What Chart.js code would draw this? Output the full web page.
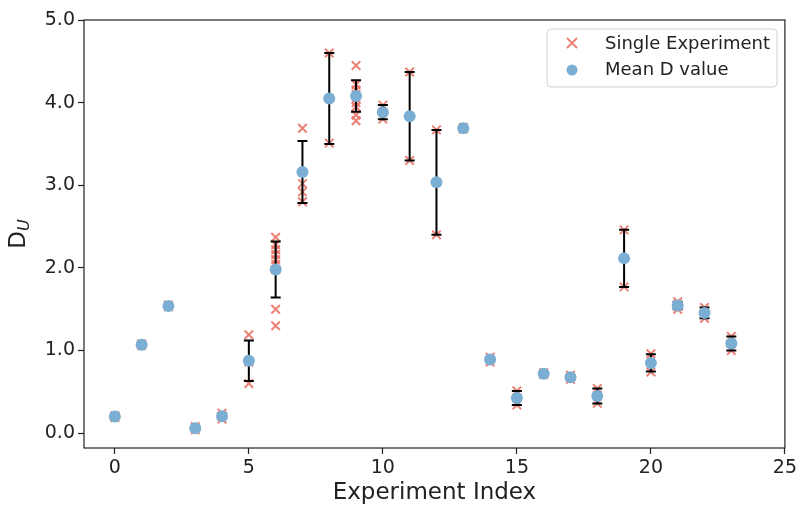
<!DOCTYPE html>
<html>
<head>
<meta charset="utf-8">
<script src="https://cdn.jsdelivr.net/npm/chart.js@4"></script>
<style>
  html, body { margin: 0; padding: 0; background: #fff; }
  #wrap { width: 800px; height: 506px; position: relative; }
</style>
</head>
<body>
<div id="wrap"><canvas id="dChart"></canvas></div>
<script>
// Experiment indices on the x axis
const expIndex = [0, 1, 2, 3, 4, 5, 6, 7, 8, 9, 10, 11, 12, 13, 14, 15, 16, 17, 18, 19, 20, 21, 22, 23];

// D values of every single run, one list per experiment
const singleRuns = [
    [0.21, 0.19],
    [1.08, 1.06],
    [1.55, 1.53],
    [0.08, 0.04],
    [0.24, 0.17],
    [1.19, 0.86, 0.60],
    [2.37, 2.28, 2.22, 2.16, 2.10, 2.04, 1.98, 1.50, 1.30],
    [3.69, 3.02, 2.92, 2.80],
    [4.60, 3.51],
    [4.45, 4.22, 4.15, 4.10, 4.05, 4.00, 3.95, 3.85, 3.78],
    [3.97, 3.80],
    [4.37, 3.30],
    [3.67, 2.40],
    [3.70, 3.68],
    [0.92, 0.86],
    [0.51, 0.34],
    [0.73, 0.71],
    [0.70, 0.65],
    [0.54, 0.36],
    [2.46, 1.77],
    [0.96, 0.74],
    [1.59, 1.50],
    [1.52, 1.39],
    [1.17, 1.00]
];

// Mean D value and its standard deviation per experiment
const meanValues = [0.20, 1.07, 1.54, 0.06, 0.205, 0.875, 1.98, 3.16, 4.05, 4.08, 3.885, 3.835, 3.035, 3.69,
                    0.89, 0.425, 0.72, 0.675, 0.45, 2.115, 0.85, 1.545, 1.455, 1.085];
const stdValues = [0.01, 0.01, 0.01, 0.02, 0.035, 0.245, 0.34, 0.375, 0.55, 0.19, 0.085, 0.535, 0.635, 0.01,
                   0.03, 0.085, 0.01, 0.025, 0.09, 0.345, 0.105, 0.045, 0.065, 0.085];

// Axis ticks
const xTicks = [0, 5, 10, 15, 20, 25];
const yTicks = [0, 1, 2, 3, 4, 5];

const crossColor = 'rgba(232, 108, 94, 0.85)';
const meanColor = '#7aaed3';
const FONT = '"DejaVu Sans", sans-serif';

const singlePoints = [];
singleRuns.forEach((runs, i) => {
    runs.forEach(v => singlePoints.push({ x: expIndex[i], y: v }));
});
const meanPoints = expIndex.map((x, i) => ({ x: x, y: meanValues[i] }));

// Error bars drawn right after the crosses, so the mean markers sit on top
const errorBars = {
    id: 'errorBars',
    afterDatasetDraw(chart, args) {
        if (args.index !== 0) return;
        const ctx = chart.ctx;
        const xs = chart.scales.x, ys = chart.scales.y;
        ctx.save();
        ctx.strokeStyle = '#000';
        ctx.lineWidth = 2;
        expIndex.forEach((x, i) => {
            const px = xs.getPixelForValue(x);
            const top = ys.getPixelForValue(meanValues[i] + stdValues[i]);
            const bot = ys.getPixelForValue(meanValues[i] - stdValues[i]);
            ctx.beginPath();
            ctx.moveTo(px, top); ctx.lineTo(px, bot);
            ctx.moveTo(px - 5, top); ctx.lineTo(px + 5, top);
            ctx.moveTo(px - 5, bot); ctx.lineTo(px + 5, bot);
            ctx.stroke();
        });
        ctx.restore();
    }
};

// Frame, axis titles and legend box
const decorations = {
    id: 'decorations',
    afterDraw(chart) {
        const ctx = chart.ctx;
        const a = chart.chartArea;
        ctx.save();
        ctx.strokeStyle = '#222';
        ctx.lineWidth = 1.2;
        ctx.strokeRect(a.left, a.top, a.right - a.left, a.bottom - a.top);

        // x title
        ctx.fillStyle = '#222';
        ctx.font = '23px ' + FONT;
        ctx.textAlign = 'center';
        ctx.textBaseline = 'middle';
        ctx.fillText('Experiment Index', (a.left + a.right) / 2, 493);

        // y title: D with italic subscript U
        ctx.save();
        ctx.translate(25, (a.top + a.bottom) / 2);
        ctx.rotate(-Math.PI / 2);
        ctx.textAlign = 'left';
        ctx.textBaseline = 'alphabetic';
        ctx.font = '23px ' + FONT;
        const dW = ctx.measureText('D').width;
        ctx.font = 'italic 16px ' + FONT;
        const uW = ctx.measureText('U').width;
        const start = -(dW + uW) / 2;
        ctx.font = '23px ' + FONT;
        ctx.fillText('D', start, 0);
        ctx.font = 'italic 16px ' + FONT;
        ctx.fillText('U', start + dW, 4);
        ctx.restore();

        // legend
        const lx = 547, ly = 29, lw = 230, lh = 58;
        ctx.fillStyle = 'rgba(255,255,255,0.85)';
        ctx.strokeStyle = '#d0d0d0';
        ctx.lineWidth = 1;
        ctx.beginPath();
        ctx.roundRect(lx, ly, lw, lh, 4);
        ctx.fill();
        ctx.stroke();

        ctx.strokeStyle = crossColor;
        ctx.lineWidth = 1.8;
        ctx.beginPath();
        ctx.moveTo(567, 38); ctx.lineTo(577, 48);
        ctx.moveTo(577, 38); ctx.lineTo(567, 48);
        ctx.stroke();
        ctx.fillStyle = meanColor;
        ctx.beginPath();
        ctx.arc(572, 70, 5.5, 0, Math.PI * 2);
        ctx.fill();

        ctx.fillStyle = '#222';
        ctx.font = '18px ' + FONT;
        ctx.textAlign = 'left';
        ctx.textBaseline = 'middle';
        ctx.fillText('Single Experiment', 605, 44);
        ctx.fillText('Mean D value', 605, 70);
        ctx.restore();
    }
};

new Chart(document.getElementById('dChart'), {
    type: 'scatter',
    data: {
        datasets: [{
            label: 'Single Experiment',
            data: singlePoints,
            pointStyle: 'crossRot',
            pointRadius: 6,
            pointBorderWidth: 2,
            borderColor: crossColor,
            backgroundColor: crossColor,
            order: 2
        }, {
            label: 'Mean D value',
            data: meanPoints,
            pointStyle: 'circle',
            pointRadius: 6,
            pointBorderWidth: 0,
            borderColor: meanColor,
            backgroundColor: meanColor,
            order: 1
        }]
    },
    options: {
        responsive: true,
        maintainAspectRatio: false,
        animation: false,
        layout: { padding: { top: 20, right: 14, left: 0, bottom: 0 } },
        plugins: {
            legend: { display: false },
            tooltip: { enabled: false }
        },
        scales: {
            x: {
                type: 'linear',
                min: -1.15,
                max: 25,
                afterBuildTicks: s => { s.ticks = xTicks.map(v => ({ value: v })); },
                afterFit: s => { s.height = 58; },
                grid: { drawOnChartArea: false, drawTicks: true, tickLength: 6, tickColor: '#222', tickWidth: 1.2 },
                border: { display: false },
                ticks: { color: '#222', font: { family: FONT, size: 19 }, padding: 3, maxRotation: 0 }
            },
            y: {
                type: 'linear',
                min: -0.18,
                max: 5.0,
                afterBuildTicks: s => { s.ticks = yTicks.map(v => ({ value: v })); },
                afterFit: s => { s.width = 84; },
                grid: { drawOnChartArea: false, drawTicks: true, tickLength: 6, tickColor: '#222', tickWidth: 1.2 },
                border: { display: false },
                ticks: { color: '#222', font: { family: FONT, size: 19 }, padding: 3, callback: v => v.toFixed(1) }
            }
        }
    },
    plugins: [errorBars, decorations]
});
</script>
</body>
</html>
